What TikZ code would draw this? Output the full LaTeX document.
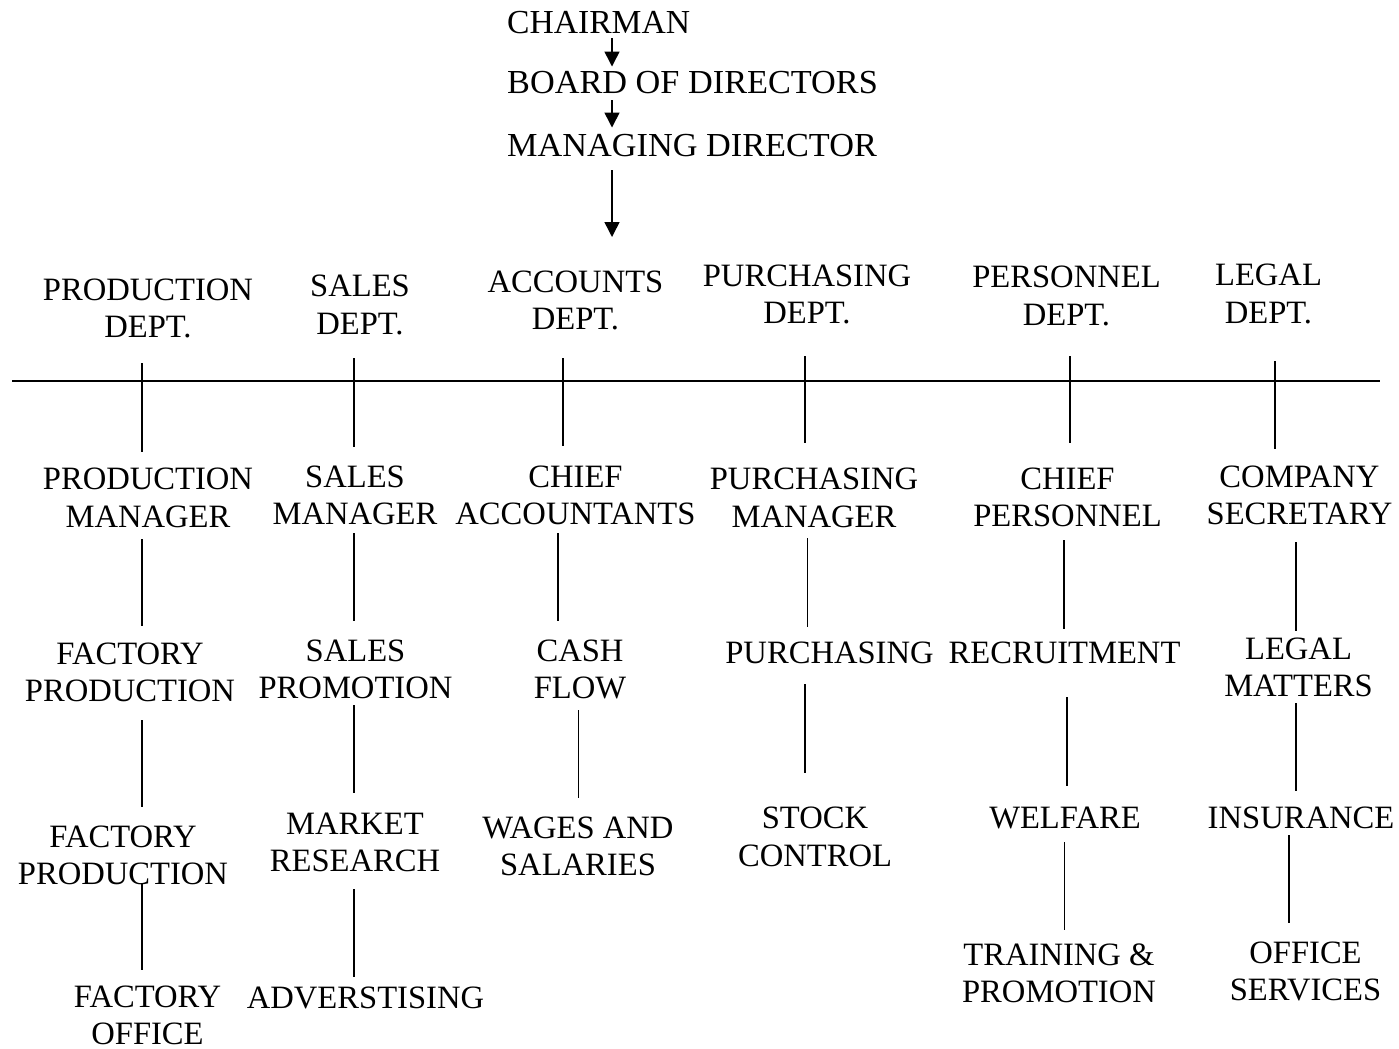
\documentclass[tikz,border=0pt]{standalone}
\usepackage{fontspec}
\setmainfont{Liberation Serif}
\usetikzlibrary{arrows.meta}
\tikzset{
  lbl/.style={align=center, inner sep=0pt, font=\fontsize{32.6bp}{37.5bp}\selectfont},
  toplbl/.style={align=center, inner sep=0pt, font=\fontsize{33.6bp}{37.5bp}\selectfont, anchor=west},
  vline/.style={line width=1.6bp},
  barline/.style={line width=2.2bp},
  arr/.style={line width=1.5bp, -{Triangle[length=15bp,width=15bp]}},
}
\newcommand\orglink[5]{%
  \coordinate (tmpx) at (#3,0);
  \draw[vline, shorten <=#4bp, shorten >=#5bp] (#1.south -| tmpx) -- (#2.north -| tmpx);}
\begin{document}
\begin{tikzpicture}[x=1bp, y=-1bp]
\useasboundingbox (0,0) rectangle (1399,1048);

% top chain
\node[toplbl] (chair) at (507,23) {CHAIRMAN};
\node[toplbl, xscale=1.02] (board) at (507,82.5) {BOARD OF DIRECTORS};
\node[toplbl, xscale=1.02] (md) at (507,146) {MANAGING DIRECTOR};
\coordinate (ax) at (612,0);
\coordinate (mdend) at (612,237);
\draw[arr, shorten <=4bp, shorten >=4.5bp] (chair.south -| ax) -- (board.north -| ax);
\draw[arr, shorten <=6.5bp, shorten >=7bp] (board.south -| ax) -- (md.north -| ax);
\draw[arr, shorten <=13bp] (md.south -| mdend) -- (mdend);

% departments
\node[lbl] (d1) at (148,308.5) {PRODUCTION\\DEPT.};
\node[lbl] (d2) at (360,305) {SALES\\DEPT.};
\node[lbl] (d3) at (575.5,300.5) {ACCOUNTS\\DEPT.};
\node[lbl] (d4) at (807,294.5) {PURCHASING\\DEPT.};
\node[lbl] (d5) at (1066.5,296) {PERSONNEL\\DEPT.};
\node[lbl] (d6) at (1268.5,294) {LEGAL\\DEPT.};

% horizontal bar
\coordinate (barW) at (12,380.7);
\coordinate (barE) at (1379.5,380.7);
\draw[barline] (barW) -- (barE);

% level 2
\node[lbl] (a1) at (148,498) {PRODUCTION\\MANAGER};
\node[lbl] (b1) at (355,495.5) {SALES\\MANAGER};
\node[lbl] (c1) at (575.5,495.5) {CHIEF\\ACCOUNTANTS};
\node[lbl] (e1) at (814,498) {PURCHASING\\MANAGER};
\node[lbl] (f1) at (1067.5,497.5) {CHIEF\\PERSONNEL};
\node[lbl] (g1) at (1299.5,495.5) {COMPANY\\SECRETARY};

% level 3
\node[lbl] (a2) at (130,672.5) {FACTORY\\PRODUCTION};
\node[lbl] (b2) at (355.5,669.5) {SALES\\PROMOTION};
\node[lbl] (c2) at (580,669.5) {CASH\\FLOW};
\node[lbl] (e2) at (829.5,652.5) {PURCHASING};
\node[lbl] (f2) at (1064.5,652.5) {RECRUITMENT};
\node[lbl] (g2) at (1298.5,667.5) {LEGAL\\MATTERS};

% level 4
\node[lbl] (a3) at (123,855.5) {FACTORY\\PRODUCTION};
\node[lbl] (b3) at (355,842.5) {MARKET\\RESEARCH};
\node[lbl] (c3) at (578,846.5) {WAGES AND\\SALARIES};
\node[lbl] (e3) at (815,837) {STOCK\\CONTROL};
\node[lbl] (f3) at (1065,817.5) {WELFARE};
\node[lbl] (g3) at (1301,817.5) {INSURANCE};

% level 5
\node[lbl] (a4) at (147.5,1015.5) {FACTORY\\OFFICE};
\node[lbl] (b4) at (365.5,997.5) {ADVERSTISING};
\node[lbl] (f4) at (1059,973.5) {TRAINING \&\\PROMOTION};
\node[lbl] (g4) at (1305.5,971.5) {OFFICE\\SERVICES};

% connectors: dept -> level 2
\orglink{d1}{a1}{142}{24.75}{16.25}
\orglink{d2}{b1}{354}{23.25}{18.75}
\orglink{d3}{c1}{563}{27.75}{19.75}
\orglink{d4}{e1}{805}{31.75}{25.25}
\orglink{d5}{f1}{1070}{30.25}{24.75}
\orglink{d6}{g1}{1275}{37.25}{16.75}

% level 2 -> 3
\orglink{a1}{a2}{142}{11.25}{16.75}
\orglink{b1}{b2}{354}{7.75}{18.75}
\orglink{c1}{c2}{558}{7.75}{18.75}
\orglink{e1}{e2}{807.5}{10.25}{14.5}
\orglink{f1}{f2}{1064}{12.75}{12.5}
\orglink{g1}{g2}{1296}{16.75}{6.75}

% level 3 -> 4
\orglink{a2}{a3}{142}{17.75}{18.75}
\orglink{b2}{b3}{354}{5.75}{19.75}
\orglink{c2}{c3}{578.5}{10.75}{18.75}
\orglink{e2}{e3}{805}{20.5}{34.25}
\orglink{f2}{f3}{1067}{33.5}{20.5}
\orglink{g2}{g3}{1296}{5.75}{15.5}

% level 4 -> 5
\orglink{a3}{a4}{142}{-2.25}{15.75}
\orglink{b3}{b4}{354}{16.75}{9.5}
\orglink{f3}{f4}{1064.5}{13.5}{13.75}
\orglink{g3}{g4}{1289}{6.5}{18.75}
\end{tikzpicture}
\end{document}
